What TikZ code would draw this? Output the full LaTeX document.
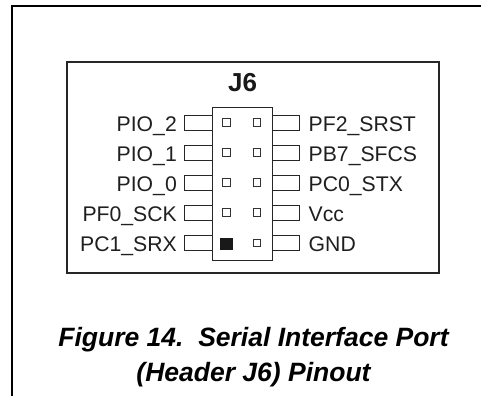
\documentclass[tikz,border=0pt]{standalone}
\usepackage{fontspec}
\setmainfont{Liberation Sans}
\tikzset{
  pinbox/.style={draw=black!85,line width=0.9pt,fill=white},
  hole/.style={draw=black!80,line width=0.9pt,fill=white,minimum size=7.6,inner sep=0,outer sep=0},
  lab/.style={font=\fontsize{21.2}{23}\selectfont,inner sep=0,text=black!88},
  captext/.style={font=\fontsize{26.5}{34.5}\selectfont\bfseries\itshape,inner sep=0,align=center,text=black}
}
\begin{document}
\begin{tikzpicture}[x=1pt,y=-1pt]
\useasboundingbox (0,0) rectangle (481,396);
\fill[white] (0,0) rectangle (481,396);
\draw[line width=1.9pt,black] (12,396) -- (12,6) -- (481,6);
\draw[draw=black!85,line width=2pt] (67,61.5) rectangle (438.5,273);
\node[lab,font=\fontsize{26}{28}\selectfont\bfseries,anchor=base,text=black!90] (title) at (242.5,91.5) {J6};
\foreach \y in {122.5,152.5,182.5,212.5,243}{
  \draw[pinbox] (184.5,\y-7.5) rectangle (212,\y+7.5);
  \draw[pinbox] (272,\y-7.5) rectangle (299.3,\y+7.5);
}
\draw[pinbox] (212,107.7) rectangle (272,260);
\foreach \i/\y in {1/122.5,2/152.5,3/182.5,4/212.5}{
  \node[hole] (l\i) at (226.7,\y) {};
}
\foreach \i/\y in {1/122.5,2/152.5,3/182.5,4/212.5,5/243}{
  \node[hole] (r\i) at (257,\y) {};
}
\node[fill=black!90,minimum size=12.5,inner sep=0] (l5) at (226.3,243.8) {};
\foreach \t/\y in {PIO\_2/131,PIO\_1/161,PIO\_0/191,PF0\_SCK/221,PC1\_SRX/251}{
  \node[lab,anchor=base east] at (177,\y) {\t};
}
\foreach \t/\y in {PF2\_SRST/131,PB7\_SFCS/161,PC0\_STX/191,Vcc/221,GND/251}{
  \node[lab,anchor=base west] at (308.5,\y) {\t};
}
\node[captext] (c) at (253.5,357) {Figure 14.\ \ Serial Interface Port\\(Header J6) Pinout};
\end{tikzpicture}
\end{document}
